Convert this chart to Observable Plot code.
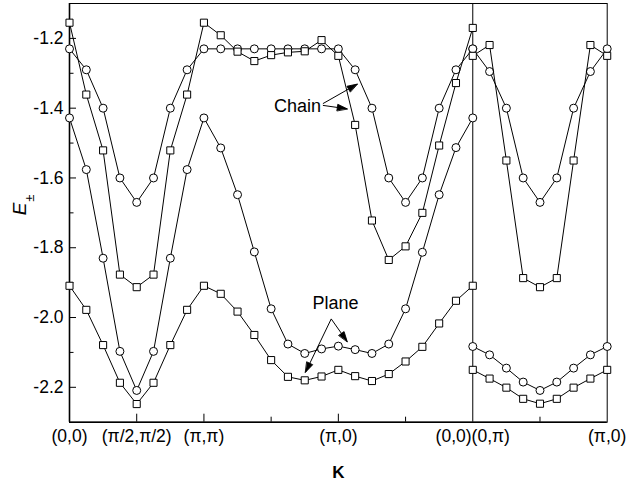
<!DOCTYPE html>
<html><head><meta charset="utf-8">
<script src="https://cdn.jsdelivr.net/npm/d3@7"></script>
<script src="https://cdn.jsdelivr.net/npm/@observablehq/plot@0.6"></script>
<style>
html,body{margin:0;padding:0;background:#fff;}
</style>
</head><body>
<div id="chart"></div>
<script>
// Momentum path positions (left panel: (0,0)->(π/2,π/2)->(π,π)->(π,0)->(0,0); right panel: (0,π)->(π,0))
const kLeft = [0,0.25,0.5,0.75,1,1.25,1.5,1.75,2,2.25,2.5,2.75,3,3.25,3.5,3.75,4,4.25,4.5,4.75,5,5.25,5.5,5.75,6];
const kRight = [6,6.25,6.5,6.75,7,7.25,7.5,7.75,8];

// Chain (circles)
const chainCircleLeft = [-1.23,-1.29,-1.40,-1.60,-1.67,-1.60,-1.40,-1.29,-1.23,-1.23,-1.23,-1.23,-1.23,-1.23,-1.23,-1.23,-1.23,-1.29,-1.40,-1.60,-1.67,-1.60,-1.40,-1.29,-1.23];
const chainCircleRight = [-1.23,-1.295,-1.40,-1.60,-1.67,-1.60,-1.40,-1.295,-1.23];
// Chain (squares)
const chainSquareLeft = [-1.155,-1.361,-1.521,-1.877,-1.913,-1.877,-1.521,-1.361,-1.155,-1.191,-1.238,-1.265,-1.248,-1.240,-1.237,-1.205,-1.250,-1.448,-1.722,-1.835,-1.796,-1.700,-1.507,-1.328,-1.170];
const chainSquareRight = [-1.25,-1.219,-1.55,-1.887,-1.913,-1.887,-1.55,-1.219,-1.25];
// Plane (circles)
const planeCircleLeft = [-1.428,-1.576,-1.830,-2.097,-2.209,-2.097,-1.830,-1.576,-1.428,-1.514,-1.648,-1.812,-1.975,-2.076,-2.103,-2.090,-2.082,-2.092,-2.103,-2.076,-1.975,-1.813,-1.648,-1.513,-1.428];
const planeCircleRight = [-2.083,-2.107,-2.145,-2.185,-2.209,-2.185,-2.145,-2.107,-2.083];
// Plane (squares)
const planeSquareLeft = [-1.909,-1.978,-2.079,-2.187,-2.248,-2.187,-2.079,-1.978,-1.909,-1.932,-1.983,-2.050,-2.122,-2.170,-2.180,-2.169,-2.150,-2.168,-2.182,-2.162,-2.126,-2.084,-2.017,-1.952,-1.909];
const planeSquareRight = [-2.150,-2.175,-2.201,-2.233,-2.247,-2.233,-2.201,-2.175,-2.150];

// Axis ticks and labels
const xTickPos = [0,1,2,4,6,8];
const xTickLabels = ["(0,0)","(π/2,π/2)","(π,π)","(π,0)","(0,0)(0,π)","(π,0)"];
const xMajorTicks = [1,2,4];
const xMinorTicks = [3,5,7];
const yMajorTicks = [-1.2,-1.4,-1.6,-1.8,-2.0,-2.2];
const yMinorTicks = [-1.3,-1.5,-1.7,-1.9,-2.1];
const panelDivider = [6];

// Annotations
const annotationLabels = [
  {x: 3.392, y: -1.394, text: "Chain"},
  {x: 3.958, y: -1.959, text: "Plane"}
];
const annotationArrows = [
  {x1: 3.77, y1: -1.387, x2: 4.281, y2: -1.331},
  {x1: 3.77, y1: -1.392, x2: 4.132, y2: -1.402},
  {x1: 3.894, y1: -2.004, x2: 4.132, y2: -2.069},
  {x1: 3.894, y1: -2.004, x2: 3.511, y2: -2.157}
];

const W = 629, H = 493, mL = 69, mR = 22.3, mT = 3, mB = 71.3;
const xDom = [0, 8], yDom = [-2.3, -1.1];
const pxX = (W - mL - mR) / (xDom[1] - xDom[0]);
const pxY = (H - mT - mB) / (yDom[1] - yDom[0]);

function rows(ks, vs, seg) { return ks.map((k, i) => ({k, v: vs[i], seg})); }
const chainC = [...rows(kLeft, chainCircleLeft, "L"), ...rows(kRight, chainCircleRight, "R")];
const chainS = [...rows(kLeft, chainSquareLeft, "L"), ...rows(kRight, chainSquareRight, "R")];
const planeC = [...rows(kLeft, planeCircleLeft, "L"), ...rows(kRight, planeCircleRight, "R")];
const planeS = [...rows(kLeft, planeSquareLeft, "L"), ...rows(kRight, planeSquareRight, "R")];

const font = "Liberation Sans, Arial, Helvetica, sans-serif";
const arrowAngle = d => {
  const dx = (d.x2 - d.x1) * pxX;
  const dy = -(d.y2 - d.y1) * pxY;
  return Math.atan2(dx, -dy) * 180 / Math.PI;
};
const triShape = {draw(ctx, l) { ctx.moveTo(0, -l); ctx.lineTo(-3.2, 0); ctx.lineTo(3.2, 0); ctx.closePath(); }};

function series(data, symbol) {
  return [
    Plot.line(data, {x: "k", y: "v", z: "seg", stroke: "black", strokeWidth: 1}),
    Plot.dot(data, {x: "k", y: "v", symbol, r: 4, fill: "white", stroke: "black", strokeWidth: 1})
  ];
}

const chart = Plot.plot({
  width: W, height: H,
  marginLeft: mL, marginRight: mR, marginTop: mT, marginBottom: mB,
  style: {fontFamily: font, fontSize: "17px", background: "white", color: "black"},
  x: {domain: xDom, axis: null},
  y: {domain: yDom, axis: null},
  marks: [
    Plot.frame({stroke: "black", strokeWidth: 1}),
    Plot.ruleX([xDom[0]], {stroke: "black", strokeWidth: 1.6}),
    Plot.ruleY([yDom[0]], {stroke: "black", strokeWidth: 1.6}),
    Plot.ruleX(panelDivider, {stroke: "black", strokeWidth: 1}),
    // inward ticks
    Plot.ruleX(xMajorTicks, {x: d => d, y1: yDom[0], y2: yDom[0] + 8 / pxY, stroke: "black", strokeWidth: 1}),
    Plot.ruleX(xMinorTicks, {x: d => d, y1: yDom[0], y2: yDom[0] + 5 / pxY, stroke: "black", strokeWidth: 1}),
    Plot.ruleY(yMajorTicks, {y: d => d, x1: xDom[0], x2: xDom[0] + 7 / pxX, stroke: "black", strokeWidth: 1}),
    Plot.ruleY(yMinorTicks, {y: d => d, x1: xDom[0], x2: xDom[0] + 4.5 / pxX, stroke: "black", strokeWidth: 1}),
    // tick labels
    Plot.text(xTickPos, {x: d => d, frameAnchor: "bottom", dy: 19.5, text: (d, i) => xTickLabels[i], fontSize: 17.5, fill: "black"}),
    Plot.text(yMajorTicks, {y: d => d, frameAnchor: "left", dx: -6, textAnchor: "end", text: d => d.toFixed(1), fontSize: 17.5, fill: "black"}),
    // axis titles
    Plot.text(["K"], {frameAnchor: "bottom", dy: 56, fontWeight: "bold", fontSize: 17, fill: "black"}),
    Plot.text(["E"], {frameAnchor: "left", dx: -49.5, dy: 2.5, rotate: -90, fontStyle: "italic", fontSize: 19, fill: "black"}),
    Plot.text(["±"], {frameAnchor: "left", dx: -40, dy: -11, rotate: -90, fontSize: 13, fill: "black"}),
    // data
    ...series(chainC, "circle"),
    ...series(chainS, "square"),
    ...series(planeC, "circle"),
    ...series(planeS, "square"),
    // annotations
    Plot.link(annotationArrows, {x1: "x1", y1: "y1", x2: "x2", y2: "y2", stroke: "black", strokeWidth: 1}),
    Plot.vector(annotationArrows, {x: "x2", y: "y2", rotate: arrowAngle, length: 10, anchor: "end", shape: triShape, fill: "black", stroke: "black", strokeWidth: 0.8}),
    Plot.text(annotationLabels, {x: "x", y: "y", text: "text", fontSize: 18, fill: "black"})
  ]
});
document.getElementById("chart").appendChild(chart);
</script>
</body></html>
